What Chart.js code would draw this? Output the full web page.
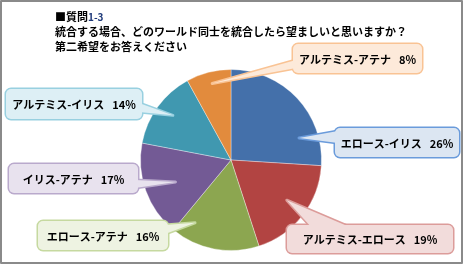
<!DOCTYPE html>
<html>
<head>
<meta charset="utf-8">
<script src="https://cdn.jsdelivr.net/npm/chart.js@4"></script>
<style>
  html, body { margin: 0; padding: 0; background: #fff; }
  #wrap { width: 463px; height: 265px; position: relative; }
</style>
</head>
<body>
<div id="wrap"><canvas id="chart" width="463" height="265"></canvas></div>
<script>
// data
const labels = ['エロース-イリス', 'アルテミス-エロース', 'エロース-アテナ', 'イリス-アテナ', 'アルテミス-イリス', 'アルテミス-アテナ'];
const values = [26, 19, 16, 17, 14, 8];
const colors = ['#4470AA', '#B24442', '#8CA650', '#735A95', '#4098B0', '#E28B3D'];

// callout boxes: box, side where the pointer leaves, base span, tip position inside slice
const callouts = [
    { box: [335, 128, 124, 29], side: 'left', base: [131, 143], t: 0.77, rf: 0.79, fill: '#DCE6F2', stroke: '#6A9BDB' },
    { box: [287, 225, 166, 28], side: 'top', base: [312, 352], t: 0.47, rf: 0.76, fill: '#F2DCDB', stroke: '#DC9C9A' },
    { box: [38, 221, 130, 29], side: 'right', base: [225, 234], t: 0.83, rf: 0.8, fill: '#EEF3E2', stroke: '#C6D9A0' },
    { box: [9, 164, 129, 29], side: 'right', base: [180, 188], t: 0.47, rf: 0.66, fill: '#E8E2EE', stroke: '#B9A9CC' },
    { box: [6, 89, 136, 30], side: 'right', base: [103, 112], t: 0.53, rf: 0.81, fill: '#DDEFF5', stroke: '#98D0E0' },
    { box: [293, 44, 129, 29], side: 'left', base: [60, 68], t: 0.52, rf: 0.87, fill: '#FDEADA', stroke: '#F9C394' }
];

function roundRect(ctx, x, y, w, h, r) {
    ctx.beginPath();
    ctx.moveTo(x + r, y);
    ctx.arcTo(x + w, y, x + w, y + h, r);
    ctx.arcTo(x + w, y + h, x, y + h, r);
    ctx.arcTo(x, y + h, x, y, r);
    ctx.arcTo(x, y, x + w, y, r);
    ctx.closePath();
}

const calloutPlugin = {
    id: 'callouts',
    afterDraw(chart) {
        const ctx = chart.ctx;
        const arcs = chart.getDatasetMeta(0).data;
        const total = values.reduce((a, b) => a + b, 0);

        ctx.save();
        callouts.forEach((c, i) => {
            const arc = arcs[i];
            const ang = arc.startAngle + (arc.endAngle - arc.startAngle) * c.t;
            const tx = arc.x + Math.cos(ang) * arc.outerRadius * c.rf;
            const ty = arc.y + Math.sin(ang) * arc.outerRadius * c.rf;
            const [x, y, w, h] = c.box;
            let p1, p2;
            if (c.side === 'left') { p1 = [x + 3, c.base[0]]; p2 = [x + 3, c.base[1]]; }
            if (c.side === 'right') { p1 = [x + w - 3, c.base[0]]; p2 = [x + w - 3, c.base[1]]; }
            if (c.side === 'top') { p1 = [c.base[0], y + 3]; p2 = [c.base[1], y + 3]; }

            const wedge = () => {
                ctx.beginPath();
                ctx.moveTo(p1[0], p1[1]);
                ctx.lineTo(tx, ty);
                ctx.lineTo(p2[0], p2[1]);
                ctx.closePath();
            };

            ctx.lineJoin = 'round';
            ctx.strokeStyle = c.stroke;
            ctx.lineWidth = 3;
            wedge(); ctx.stroke();
            roundRect(ctx, x, y, w, h, 5); ctx.stroke();
            ctx.fillStyle = c.fill;
            wedge(); ctx.fill();
            roundRect(ctx, x, y, w, h, 5); ctx.fill();

            // label text
            const pct = Math.round(values[i] / total * 100) + '%';
            ctx.font = 'bold 11px "Noto Sans CJK JP"';
            ctx.textBaseline = 'middle';
            const nameW = ctx.measureText(labels[i]).width;
            const gap = 8;
            const pctW = ctx.measureText(pct).width;
            let sx = x + (w - nameW - gap - pctW) / 2;
            ctx.fillStyle = '#000';
            ctx.textAlign = 'left';
            ctx.fillText(labels[i], sx, y + h / 2 + 1);
            ctx.fillText(pct, sx + nameW + gap, y + h / 2 + 1);
        });

        // title
        ctx.fillStyle = '#000';
        ctx.textAlign = 'left';
        ctx.textBaseline = 'alphabetic';
        ctx.font = 'bold 11px "Noto Sans CJK JP"';
        ctx.fillText('■質問', 55, 21);
        const qw = ctx.measureText('■質問').width;
        ctx.fillStyle = '#1F3A7A';
        ctx.font = 'bold 10px "Noto Sans CJK JP"';
        ctx.fillText('1-3', 55 + qw, 21);
        ctx.fillStyle = '#000';
        ctx.font = 'bold 11px "Noto Sans CJK JP"';
        ctx.fillText('統合する場合、どのワールド同士を統合したら望ましいと思いますか？', 55, 36);
        ctx.fillText('第二希望をお答えください', 55, 51);

        // outer frame
        ctx.strokeStyle = '#8A8A8A';
        ctx.lineWidth = 2;
        ctx.strokeRect(1, 1, 461, 262);
        ctx.restore();
    }
};

new Chart(document.querySelector('#chart'), {
    type: 'pie',
    data: {
        labels: labels,
        datasets: [{
            data: values,
            backgroundColor: colors,
            borderColor: 'rgba(255,255,255,0.35)',
            borderWidth: 1
        }]
    },
    options: {
        responsive: false,
        animation: false,
        layout: { padding: { top: 69, bottom: 14, left: 140, right: 141 } },
        plugins: {
            legend: { display: false },
            tooltip: { enabled: false }
        }
    },
    plugins: [calloutPlugin]
});
</script>
</body>
</html>
